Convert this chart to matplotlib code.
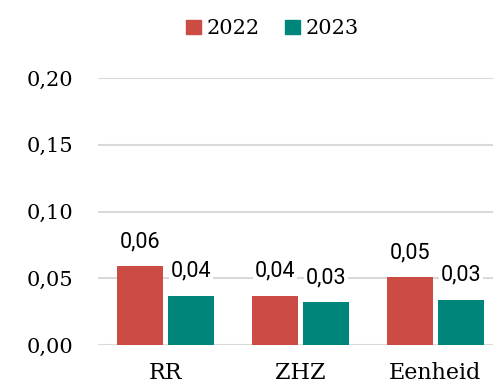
import numpy as np
import matplotlib
matplotlib.use("Agg")
import matplotlib.pyplot as plt
from matplotlib.patches import Patch

categories = ["RR", "ZHZ", "Eenheid"]
years = ["2022", "2023"]
v2022 = [0.059, 0.037, 0.051]
v2023 = [0.037, 0.032, 0.034]
yticks = [0.00, 0.05, 0.10, 0.15, 0.20]

red = "#CB4C44"
teal = "#00857A"

plt.rcParams.update({
    "font.family": "DejaVu Serif",
})

fig = plt.figure(figsize=(4.93, 3.85), dpi=100)
ax = fig.add_axes([98 / 493, 40 / 385, 1 - 98 / 493, 267 / 385])

x = np.arange(len(categories))
w = 0.34
off = 0.189
b1 = ax.bar(x - off, v2022, w, color=red, zorder=2)
b2 = ax.bar(x + off, v2023, w, color=teal, zorder=2)

# value labels, sans-serif on white so the grid stops behind them
for bars, vals in ((b1, v2022), (b2, v2023)):
    for r, v in zip(bars, vals):
        ax.annotate(f"{v:.2f}".replace(".", ","),
                    (r.get_x() + r.get_width() / 2, v),
                    xytext=(0, 10), textcoords="offset points",
                    ha="center", va="bottom", fontsize=15.5,
                    family="Roboto", zorder=3,
                    bbox=dict(boxstyle="square,pad=0.1", fc="white", ec="none"))

ax.set_xlim(-0.5, (493 - 98) / 135 - 0.5)
ax.set_ylim(0, 0.2)
ax.set_yticks(yticks)
ax.set_yticklabels([f"{t:.2f}".replace(".", ",") for t in yticks], fontsize=15)
ax.set_xticks(x)
ax.set_xticklabels(categories, fontsize=16)
ax.tick_params(axis="y", length=0, pad=18)
ax.tick_params(axis="x", length=0, pad=12)
ax.yaxis.grid(True, color="#d9d9d9", linewidth=1.5, zorder=0)
ax.set_axisbelow(True)
for s in ax.spines.values():
    s.set_visible(False)

handles = [Patch(color=red, label=years[0]), Patch(color=teal, label=years[1])]
fig.legend(handles=handles, loc="center", bbox_to_anchor=(0.553, 0.925), ncol=2,
           frameon=False, fontsize=15, handlelength=0.7, handleheight=0.7,
           handletextpad=0.3, columnspacing=1.2)

fig.savefig("out.png", dpi=100)
